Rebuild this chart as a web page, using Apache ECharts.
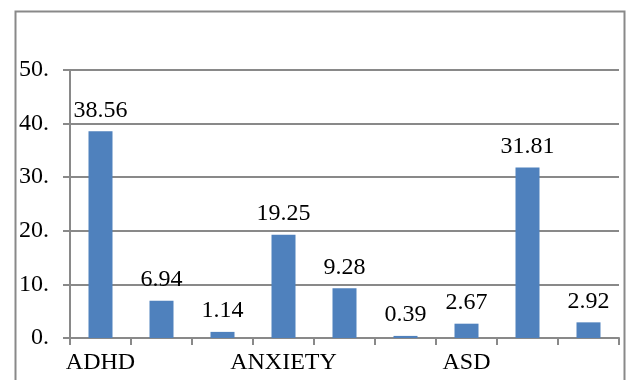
<!DOCTYPE html>
<html>
<head>
<meta charset="utf-8">
<script src="https://cdn.jsdelivr.net/npm/echarts@6/dist/echarts.min.js"></script>
<style>
  html, body { margin: 0; padding: 0; background: #fff; }
  #chart { width: 628px; height: 380px; }
</style>
</head>
<body>
<div id="chart"></div>
<script>
// Category slots along the x axis (only every third one carries a name)
const categories = ['ADHD', '', '', 'ANXIETY', '', '', 'ASD', '', ''];
// Bar values
const values = [38.56, 6.94, 1.14, 19.25, 9.28, 0.39, 2.67, 31.81, 2.92];
// Value axis range and step
const yMin = 0;
const yMax = 50;
const yStep = 10;

const FONT = '"Liberation Serif", "Times New Roman", serif';
const GRAY = '#898989';

const chart = echarts.init(document.getElementById('chart'), null, { renderer: 'canvas' });

chart.setOption({
  animation: false,
  backgroundColor: '#ffffff',
  graphic: [{
    type: 'rect',
    shape: { x: 15.5, y: 11.5, width: 609, height: 400 },
    style: { fill: 'none', stroke: GRAY, lineWidth: 2 },
    silent: true,
    z: -1
  }],
  grid: { left: 70, right: 9, top: 70, bottom: 42, containLabel: false },
  xAxis: {
    type: 'category',
    data: categories,
    boundaryGap: true,
    axisLine: { show: true, lineStyle: { color: GRAY, width: 2 } },
    axisTick: { show: true, length: 7, alignWithLabel: false, interval: 0, lineStyle: { color: GRAY, width: 2 } },
    axisLabel: { interval: 0, margin: 13, color: '#000', fontFamily: FONT, fontSize: 24 },
    splitLine: { show: false }
  },
  yAxis: {
    type: 'value',
    min: yMin,
    max: yMax,
    interval: yStep,
    axisLine: { show: true, lineStyle: { color: GRAY, width: 2 } },
    axisTick: { show: true, length: 7, lineStyle: { color: GRAY, width: 2 } },
    axisLabel: {
      margin: 21,
      color: '#000',
      fontFamily: FONT,
      fontSize: 24,
      formatter: v => v + '.'
    },
    splitLine: { show: true, lineStyle: { color: GRAY, width: 2 } }
  },
  series: [{
    type: 'bar',
    data: values,
    barWidth: 24,
    itemStyle: { color: '#4F81BD' },
    label: {
      show: true,
      position: 'top',
      distance: 9,
      color: '#000',
      fontFamily: FONT,
      fontSize: 24,
      formatter: p => p.value.toFixed(2)
    }
  }]
});
</script>
</body>
</html>
